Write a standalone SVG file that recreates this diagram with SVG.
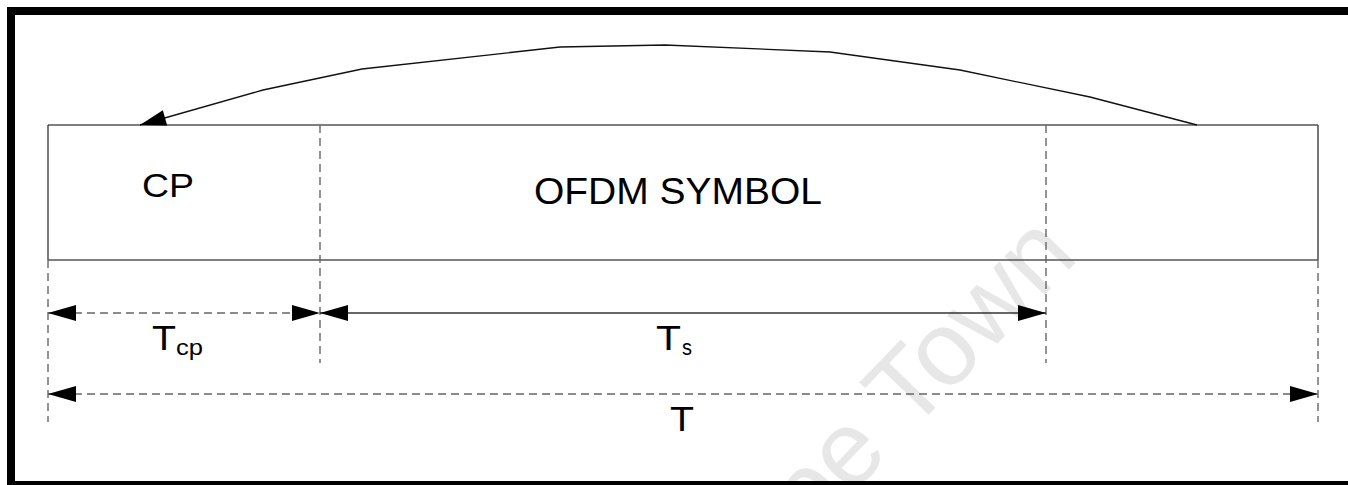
<svg xmlns="http://www.w3.org/2000/svg" width="1348" height="485" viewBox="0 0 1348 485">
<style>
text{font-family:"Liberation Sans",Arial,sans-serif;fill:#000}
.dash{stroke:#666;stroke-width:1.4;stroke-dasharray:8 5;fill:none}
.solid{stroke:#333;stroke-width:1.3;fill:none}
.wm{font-size:105px;fill:#e7e7e7}
</style>
<defs>
<marker id="ah" markerUnits="userSpaceOnUse" markerWidth="30" markerHeight="18" refX="28" refY="8" orient="auto-start-reverse" overflow="visible">
<path d="M0,0 L28,8 L0,16 Z" fill="#000"/>
</marker>
<marker id="ahc" markerUnits="userSpaceOnUse" markerWidth="28" markerHeight="18" refX="26" refY="8" orient="auto" overflow="visible">
<path d="M0,0 L26,8 L0,16 Z" fill="#000"/>
</marker>
</defs>
<rect width="1348" height="485" fill="#fff"/>
<text class="wm" transform="translate(1080,258) rotate(-46)" text-anchor="end">University of Cape Town</text>
<rect x="11" y="11" width="1400" height="474" fill="none" stroke="#000" stroke-width="8"/>
<g id="symbol-box">
<line x1="48" y1="125" x2="1318" y2="125" stroke="#000" stroke-width="1.2"/>
<line x1="48" y1="125" x2="48" y2="260" stroke="#222" stroke-width="1.2"/>
<line x1="48" y1="260" x2="1318" y2="260" stroke="#555" stroke-width="1.6"/>
<line x1="1318" y1="125" x2="1318" y2="260" stroke="#555" stroke-width="1.6"/>
</g>
<g id="cp-node"><text x="142" y="197" font-size="33" textLength="52" lengthAdjust="spacingAndGlyphs">CP</text></g>
<g id="ofdm-node"><text x="534" y="204" font-size="36" textLength="288" lengthAdjust="spacingAndGlyphs">OFDM SYMBOL</text></g>
<g id="connectors">
<line class="dash" x1="320" y1="125" x2="320" y2="363"/>
<line class="dash" x1="1046" y1="125" x2="1046" y2="363"/>
<line class="dash" x1="48" y1="260" x2="48" y2="422"/>
<line class="dash" x1="1318" y1="260" x2="1318" y2="422"/>
<line class="dash" x1="48" y1="313" x2="320" y2="313" marker-start="url(#ah)" marker-end="url(#ah)"/>
<line class="solid" x1="320" y1="313" x2="1046" y2="313" marker-start="url(#ah)" marker-end="url(#ah)"/>
<line class="dash" x1="48" y1="394" x2="1318" y2="394" marker-start="url(#ah)" marker-end="url(#ah)"/>
<polyline fill="none" stroke="#111" stroke-width="1.3" points="1197,125 1090,97 960,70 830,52 665,45 560,47 362,69 263,90 140,125" marker-end="url(#ahc)"/>
</g>
<g id="labels">
<text x="152" y="350" font-size="35" textLength="24" lengthAdjust="spacingAndGlyphs">T</text>
<text x="176" y="355" font-size="22" textLength="27" lengthAdjust="spacingAndGlyphs">cp</text>
<text x="656" y="350" font-size="35" textLength="25" lengthAdjust="spacingAndGlyphs">T</text>
<text x="682" y="355" font-size="22" textLength="10" lengthAdjust="spacingAndGlyphs">s</text>
<text x="670" y="431" font-size="35" textLength="24" lengthAdjust="spacingAndGlyphs">T</text>
</g>
</svg>
